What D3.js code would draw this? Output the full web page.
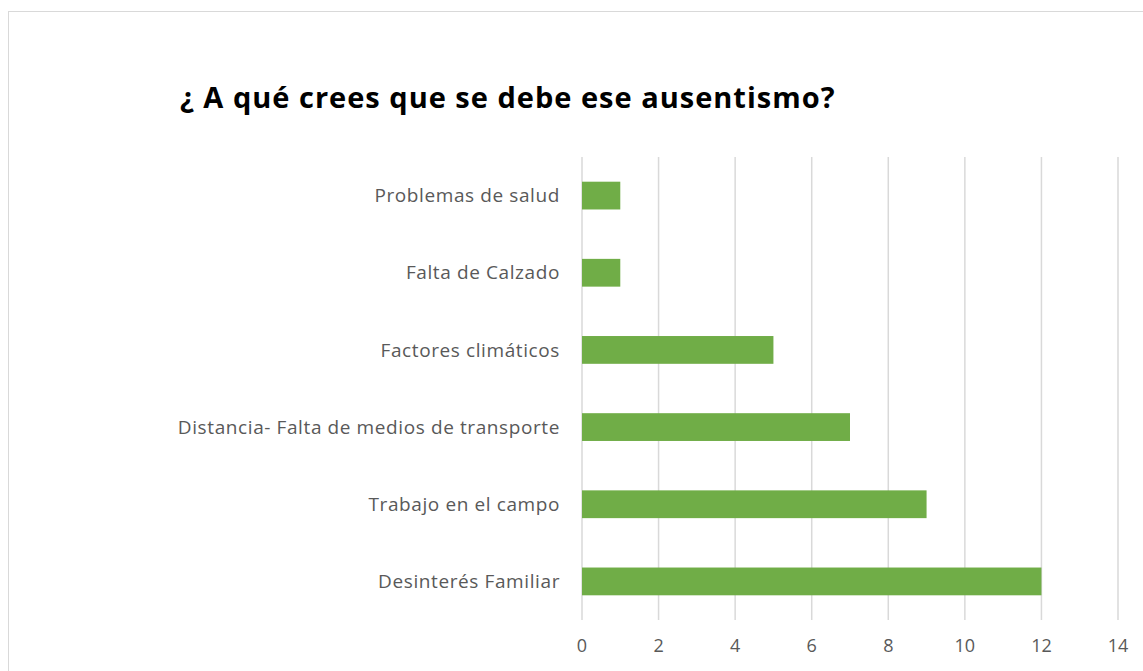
<!DOCTYPE html>
<html>
<head>
<meta charset="utf-8">
<script src="https://cdn.jsdelivr.net/npm/d3@7"></script>
<style>
  body { margin: 0; background: #fff; }
  svg text { font-family: "Open Sans", "Liberation Sans", sans-serif; }
</style>
</head>
<body>
<div id="chart"></div>
<script>
// data
var categories = ["Problemas de salud", "Falta de Calzado", "Factores climáticos",
                  "Distancia- Falta de medios de transporte", "Trabajo en el campo", "Desinterés Familiar"];
var values = [1, 1, 5, 7, 9, 12];
var xTicks = [0, 2, 4, 6, 8, 10, 12, 14];

var width = 1143, height = 671;
var margin = { top: 157, right: 25, bottom: 51, left: 582 };

var svg = d3.select("#chart").append("svg")
    .attr("width", width)
    .attr("height", height);

// chart border
svg.append("rect")
    .attr("x", 8.5).attr("y", 11.5)
    .attr("width", 1160).attr("height", 700)
    .attr("fill", "none")
    .attr("stroke", "#d9d9d9");

svg.append("text")
    .attr("x", 180).attr("y", 108)
    .attr("font-size", 29)
    .attr("font-weight", "bold")
    .attr("letter-spacing", 1)
    .attr("fill", "#000")
    .text("¿ A qué crees que se debe ese ausentismo?");

var x = d3.scaleLinear().domain([0, 14]).range([margin.left, width - margin.right]);
var y = d3.scaleBand().domain(categories)
    .range([margin.top, height - margin.bottom])
    .paddingInner(0.64).paddingOuter(0.32);

// gridlines
svg.append("g")
    .selectAll("line")
    .data(xTicks)
    .enter().append("line")
    .attr("x1", function(d) { return x(d); })
    .attr("x2", function(d) { return x(d); })
    .attr("y1", margin.top)
    .attr("y2", height - margin.bottom)
    .attr("stroke", "#d9d9d9")
    .attr("stroke-width", 1.5);

// bars
svg.append("g")
    .selectAll("rect")
    .data(values)
    .enter().append("rect")
    .attr("x", x(0))
    .attr("y", function(d, i) { return y(categories[i]); })
    .attr("width", function(d) { return x(d) - x(0); })
    .attr("height", y.bandwidth())
    .attr("fill", "#70ad47");

// category labels
svg.append("g")
    .selectAll("text")
    .data(categories)
    .enter().append("text")
    .attr("x", x(0) - 22)
    .attr("y", function(d) { return y(d) + y.bandwidth() / 2; })
    .attr("dy", "0.35em")
    .attr("text-anchor", "end")
    .attr("font-size", 19)
    .attr("letter-spacing", 0.6)
    .attr("fill", "#595959")
    .text(function(d) { return d; });

// x tick labels
svg.append("g")
    .selectAll("text")
    .data(xTicks)
    .enter().append("text")
    .attr("x", function(d) { return x(d); })
    .attr("y", 652)
    .attr("text-anchor", "middle")
    .attr("font-size", 18)
    .attr("fill", "#595959")
    .text(function(d) { return d; });
</script>
</body>
</html>
